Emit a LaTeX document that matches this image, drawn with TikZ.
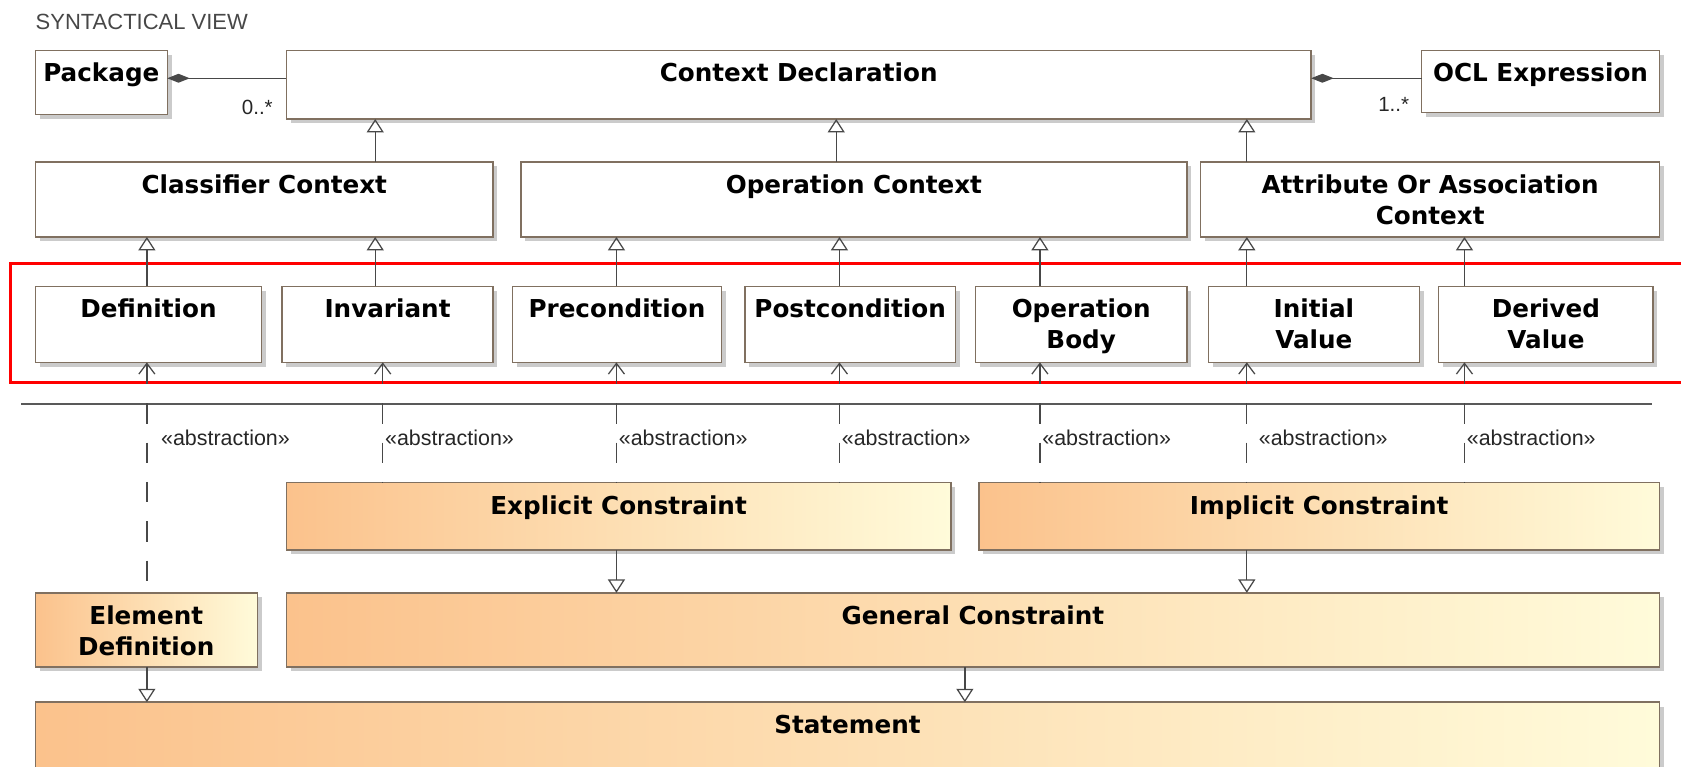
\documentclass[tikz,border=0pt]{standalone}
\usepackage{fontspec}
\setmainfont{Liberation Sans}
\newfontfamily\boxfont{DejaVu Sans}
\usetikzlibrary{arrows.meta,shadows,positioning}

\definecolor{boxline}{RGB}{128,112,96}
\definecolor{wire}{RGB}{72,72,72}
\definecolor{peach}{RGB}{251,194,140}
\definecolor{cream}{RGB}{255,251,218}

\begin{document}
\begin{tikzpicture}[
    x=0.6pt, y=-0.6pt,
    umlbox/.style 2 args={draw=boxline, line width=0.8pt, anchor=north west,
      inner sep=0pt, outer sep=0pt, minimum width=#1*0.6pt, minimum height=#2*0.6pt,
      drop shadow={shadow xshift=2.4pt, shadow yshift=-2.4pt, opacity=0.45, fill=black!45}},
    whitebox/.style 2 args={umlbox={#1}{#2}, fill=white},
    warmbox/.style 2 args={umlbox={#1}{#2}, left color=peach, right color=cream},
    boxtitle/.style={label={[anchor=north, inner sep=7pt, align=center,
      font=\boxfont\bfseries\fontsize{13.8}{17.4}\selectfont]north:{#1}}},
    gen/.style={draw=wire, line width=0.7pt, -{Triangle[open, length=7.5pt, width=9.5pt]}},
    abst/.style={draw=wire, line width=0.7pt, dash pattern=on 11.4pt off 10.6pt,
      {Straight Barb[length=6pt, width=9pt]}-},
    compos/.style={draw=wire, line width=0.7pt, {Diamond[length=12.6pt, width=5pt, fill=wire]}-},
    absl/.style={anchor=west, inner sep=1pt, font=\fontsize{12}{14}\selectfont, text=black!85},
    mult/.style={inner sep=0pt, font=\fontsize{11.5}{13}\selectfont, text=black!85}
  ]
  \useasboundingbox (0,0) rectangle (1568,715);

  \node[anchor=west, inner sep=0pt, font=\fontsize{12.3}{14}\selectfont, text=black!72] (view) at (33,20) {SYNTACTICAL VIEW};

  % top row
  \node[whitebox={123}{60}, boxtitle=Package] (pkg) at (33,47) {};
  \node[whitebox={956}{64}, boxtitle=Context Declaration] (ctx) at (267,47) {};
  \node[whitebox={222}{58}, boxtitle=OCL Expression] (ocl) at (1326,47) {};

  % contexts
  \node[whitebox={427}{70}, boxtitle=Classifier Context] (clsctx) at (33,151) {};
  \node[whitebox={621}{70}, boxtitle=Operation Context] (opctx) at (486,151) {};
  \node[whitebox={428}{70}, boxtitle={Attribute Or Association\\Context}] (attctx) at (1120,151) {};

  % constraint kinds
  \node[whitebox={211}{71}, boxtitle=Definition] (def) at (33,267) {};
  \node[whitebox={197}{71}, boxtitle=Invariant] (inv) at (263,267) {};
  \node[whitebox={195}{71}, boxtitle=Precondition] (pre) at (478,267) {};
  \node[whitebox={196}{71}, boxtitle=Postcondition] (post) at (695,267) {};
  \node[whitebox={197}{71}, boxtitle={Operation\\Body}] (body) at (910,267) {};
  \node[whitebox={197}{71}, boxtitle={Initial\\Value}] (init) at (1127,267) {};
  \node[whitebox={200}{71}, boxtitle={Derived\\Value}] (derv) at (1342,267) {};

  % semantic side
  \node[warmbox={620}{63}, boxtitle=Explicit Constraint] (expl) at (267,450) {};
  \node[warmbox={635}{63}, boxtitle=Implicit Constraint] (impl) at (913,450) {};
  \node[warmbox={207}{69}, boxtitle={Element\\Definition}] (elem) at (33,553) {};
  \node[warmbox={1281}{69}, boxtitle=General Constraint] (genc) at (267,553) {};
  \node[warmbox={1515}{75}, boxtitle=Statement] (stmt) at (33,655) {};

  % highlight and separator
  \draw[red, line width=1.8pt] (10,246) rectangle (1580,357);
  \draw[draw=black!65, line width=0.8pt] (20,377) -- (1541,377);

  % compositions
  \draw[compos] (pkg.east |- 0,73) -- (ctx.west |- 0,73);
  \draw[compos] (ctx.east |- 0,73) -- (ocl.west |- 0,73);
  \node[mult] (mpkg) at (240,100) {0..*};
  \node[mult] (mocl) at (1300,97) {1..*};

  % generalizations
  \draw[gen] (clsctx.north -| 350,0) -- (ctx.south -| 350,0);
  \draw[gen] (opctx.north -| 780,0) -- (ctx.south -| 780,0);
  \draw[gen] (attctx.north -| 1163,0) -- (ctx.south -| 1163,0);

  \draw[gen] (def.north -| 137,0) -- (clsctx.south -| 137,0);
  \draw[gen] (inv.north -| 350,0) -- (clsctx.south -| 350,0);
  \draw[gen] (pre.north -| 575,0) -- (opctx.south -| 575,0);
  \draw[gen] (post.north -| 783,0) -- (opctx.south -| 783,0);
  \draw[gen] (body.north -| 970,0) -- (opctx.south -| 970,0);
  \draw[gen] (init.north -| 1163,0) -- (attctx.south -| 1163,0);
  \draw[gen] (derv.north -| 1366,0) -- (attctx.south -| 1366,0);

  \draw[gen] (expl.south -| 575,0) -- (genc.north -| 575,0);
  \draw[gen] (impl.south -| 1163,0) -- (genc.north -| 1163,0);
  \draw[gen] (elem.south -| 137,0) -- (stmt.north -| 137,0);
  \draw[gen] (genc.south -| 900,0) -- (stmt.north -| 900,0);

  % abstractions
  \draw[abst] (def.south -| 137,0) -- node[absl, pos=0.326, xshift=6.6pt] (ab1) {«abstraction»} (elem.north -| 137,0);
  \draw[abst] (inv.south -| 357,0) -- node[absl, pos=0.625] (ab2) {«abstraction»} (expl.north -| 357,0);
  \draw[abst] (pre.south -| 575,0) -- node[absl, pos=0.625] (ab3) {«abstraction»} (expl.north -| 575,0);
  \draw[abst] (post.south -| 783,0) -- node[absl, pos=0.625] (ab4) {«abstraction»} (expl.north -| 783,0);
  \draw[abst] (body.south -| 970,0) -- node[absl, pos=0.625] (ab5) {«abstraction»} (impl.north -| 970,0);
  \draw[abst] (init.south -| 1163,0) -- node[absl, pos=0.625, xshift=5.4pt] (ab6) {«abstraction»} (impl.north -| 1163,0);
  \draw[abst] (derv.south -| 1366,0) -- node[absl, pos=0.625] (ab7) {«abstraction»} (impl.north -| 1366,0);
\end{tikzpicture}
\end{document}
